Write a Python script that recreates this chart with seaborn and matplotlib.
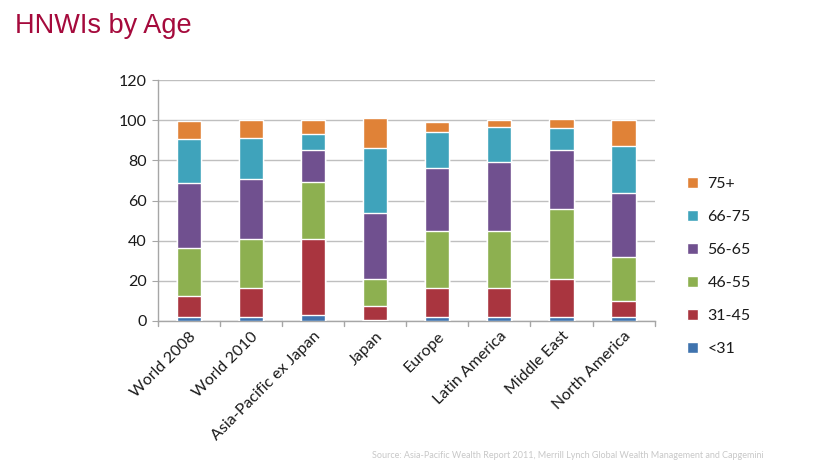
import pandas as pd
import matplotlib
matplotlib.use('Agg')
import matplotlib.pyplot as plt
import seaborn as sns
from matplotlib.patches import Patch

# Chart data (percent of HNWIs per age band)
regions = ['World 2008', 'World 2010', 'Asia-Pacific ex Japan', 'Japan',
           'Europe', 'Latin America', 'Middle East', 'North America']
age_bands = ['<31', '31-45', '46-55', '56-65', '66-75', '75+']
under_31 = [2, 2, 3, 0.5, 2, 2, 2, 2]
age_31_45 = [10.5, 14.5, 38, 7, 14.5, 14.5, 19, 8]
age_46_55 = [24, 24.5, 28, 13.5, 28.5, 28.5, 35, 22]
age_56_65 = [32, 29.5, 16, 33, 31, 34, 29, 32]
age_66_75 = [22, 20.5, 8, 32, 18, 17.5, 11, 23]
age_75_plus = [9, 9, 7, 15, 5, 3.5, 4.5, 13]

colors = ['#3F73AE', '#A9353F', '#8DB050', '#70508F', '#3FA3BB', '#E08237']

df = pd.DataFrame({'region': regions, '<31': under_31, '31-45': age_31_45,
                   '46-55': age_46_55, '56-65': age_56_65,
                   '66-75': age_66_75, '75+': age_75_plus})
cum = df[age_bands].cumsum(axis=1)

sns.set_style('white')
plt.rcParams['font.family'] = ['Lato', 'DejaVu Sans']

fig = plt.figure(figsize=(8.35, 4.61), dpi=100)
ax = fig.add_axes([0.189, 0.304, 0.595, 0.522])

# stacked bars: draw cumulative totals from the top band down
for band, col in reversed(list(zip(age_bands, colors))):
    sns.barplot(x=df['region'], y=cum[band], color=col, saturation=1,
                width=0.39, ax=ax, zorder=3)

ax.set_ylim(0, 120)
ax.set_yticks(range(0, 121, 20))
ax.set_xlim(-0.5, len(regions) - 0.5)
ax.set_xlabel('')
ax.set_ylabel('')
ax.yaxis.grid(True, color='#BFBFBF', linewidth=1, zorder=0)
for s in ['top', 'right']:
    ax.spines[s].set_visible(False)
for s in ['left', 'bottom']:
    ax.spines[s].set_color('#A6A6A6')
    ax.spines[s].set_linewidth(1)

ax.tick_params(axis='y', length=4, color='#A6A6A6', labelsize=11.5,
               labelcolor='#1A1A1A', pad=4, left=True)
ax.set_xticks(range(len(regions)))
ax.set_xticklabels(regions, rotation=45, ha='right', rotation_mode='anchor',
                   fontsize=11.5, color='#1A1A1A')
ax.tick_params(axis='x', length=0, pad=6)
# category boundary ticks
for b in [i - 0.5 for i in range(len(regions) + 1)]:
    ax.plot([b, b], [0, -2.5], color='#A6A6A6', lw=1, clip_on=False)

handles = [Patch(facecolor=c, label=l) for l, c in zip(age_bands, colors)]
fig.legend(handles=handles[::-1], loc='upper left',
           bbox_to_anchor=(0.805, 0.648), frameon=False, fontsize=11.5,
           handlelength=0.7, handleheight=0.7, handletextpad=0.6,
           labelspacing=1.18, labelcolor='#1A1A1A')

fig.text(0.018, 0.972, 'HNWIs by Age', fontsize=19.5, color='#A50A3C',
         family=['Liberation Sans', 'DejaVu Sans'], va='top', ha='left')
fig.text(0.445, 0.003, 'Source: Asia-Pacific Wealth Report 2011, Merrill Lynch Global Wealth Management and Capgemini',
         fontsize=6.5, color='#C8C8C8', va='bottom', ha='left')

fig.savefig('out.png', dpi=100)
